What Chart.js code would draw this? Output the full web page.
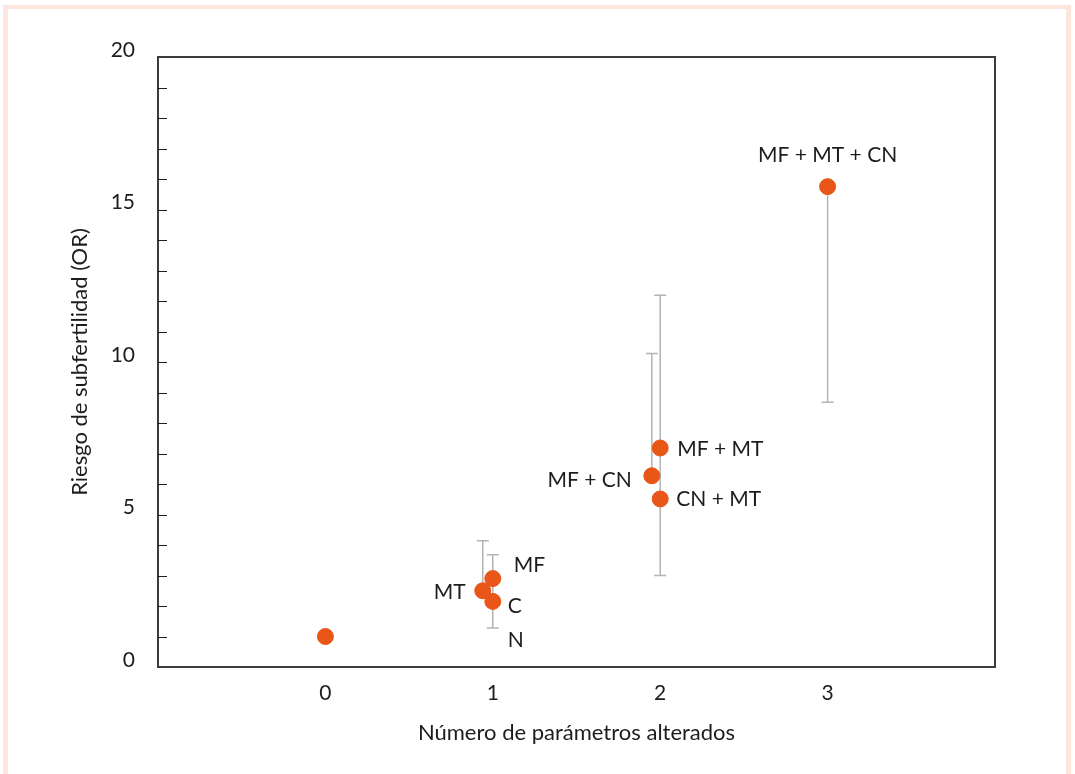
<!DOCTYPE html>
<html>
<head>
<meta charset="utf-8">
<script src="https://cdn.jsdelivr.net/npm/chart.js@4"></script>
<style>
  html, body { margin: 0; padding: 0; background: #fff; }
  #wrap { position: relative; width: 1075px; height: 774px; overflow: hidden; }
  #frame { position: absolute; left: 3px; top: 5px; width: 1058px; height: 790px;
           border-style: solid; border-color: #fde6dd; border-width: 4px 5px 0 5px; }
  canvas { position: absolute; left: 0; top: 0; }
</style>
</head>
<body>
<div id="wrap">
  <div id="frame"></div>
  <canvas id="chart" width="1075" height="774"></canvas>
</div>
<script>
// number of altered parameters (x) and odds ratio of subfertility (y)
var groups = ['Ref', 'MT', 'MF', 'C', 'MF + CN', 'MF + MT', 'CN + MT', 'MF + MT + CN'];
var nParams = [0, 0.94, 1.0, 1.0, 1.95, 2.0, 2.0, 3.0];
var oddsRatio = [1.0, 2.5, 2.9, 2.15, 6.27, 7.18, 5.51, 15.75];
var ciLow = [null, 2.5, 1.28, null, 6.27, 3.0, null, 8.68];
var ciHigh = [null, 4.14, 3.68, null, 10.28, 12.19, null, 15.75];
var xTickLabels = ['0', '1', '2', '3'];
var yTickLabels = [0, 5, 10, 15, 20];

// where each text sits relative to its point (pixels)
var labelPlacement = [
    { i: 1, text: 'MT', dx: -17, dy: 1, align: 'right' },
    { i: 2, text: 'MF', dx: 21, dy: -13, align: 'left' },
    { i: 3, text: 'C', dx: 15, dy: 5, align: 'left' },
    { i: 3, text: 'N', dx: 15, dy: 39, align: 'left' },
    { i: 4, text: 'MF + CN', dx: -20, dy: 4, align: 'right' },
    { i: 5, text: 'MF + MT', dx: 17, dy: 1, align: 'left' },
    { i: 6, text: 'CN + MT', dx: 16, dy: 0, align: 'left' },
    { i: 7, text: 'MF + MT + CN', dx: 0, dy: -31, align: 'center' }
];

var FONT = 'Lato, "Open Sans", sans-serif';
var TEXT = '#1d1d1b';
var ORANGE = '#e85618';

var points = nParams.map(function (x, i) {
    return { x: x, y: oddsRatio[i] };
});

var extrasPlugin = {
    id: 'extras',
    beforeDatasetsDraw: function (chart) {
        var ctx = chart.ctx;
        var xs = chart.scales.x, ys = chart.scales.y;
        ctx.save();
        ctx.strokeStyle = '#b4b4b4';
        ctx.lineWidth = 1.5;
        for (var i = 0; i < nParams.length; i++) {
            if (ciLow[i] === null) continue;
            var px = xs.getPixelForValue(nParams[i]);
            var lo = ys.getPixelForValue(ciLow[i]);
            var hi = ys.getPixelForValue(ciHigh[i]);
            ctx.beginPath();
            ctx.moveTo(px, lo); ctx.lineTo(px, hi);
            if (ciHigh[i] !== oddsRatio[i]) { ctx.moveTo(px - 6, hi); ctx.lineTo(px + 6, hi); }
            if (ciLow[i] !== oddsRatio[i]) { ctx.moveTo(px - 6, lo); ctx.lineTo(px + 6, lo); }
            ctx.stroke();
        }
        ctx.restore();
    },
    afterDatasetsDraw: function (chart) {
        var ctx = chart.ctx;
        var a = chart.chartArea;
        var xs = chart.scales.x, ys = chart.scales.y;
        ctx.save();
        // box round the plot
        ctx.strokeStyle = '#3c3c3c';
        ctx.lineWidth = 2;
        ctx.strokeRect(a.left, a.top, a.right - a.left, a.bottom - a.top);
        // inward minor ticks on y
        ctx.lineWidth = 1;
        ctx.strokeStyle = '#1d1d1b';
        for (var v = 1; v < 20; v++) {
            var py = Math.round(ys.getPixelForValue(v)) + 0.5;
            ctx.beginPath();
            ctx.moveTo(a.left - 1, py); ctx.lineTo(a.left + 9, py);
            ctx.stroke();
        }
        // point labels
        ctx.fillStyle = TEXT;
        ctx.font = '21px ' + FONT;
        ctx.textBaseline = 'middle';
        labelPlacement.forEach(function (l) {
            var px = xs.getPixelForValue(nParams[l.i]);
            var py = ys.getPixelForValue(oddsRatio[l.i]);
            ctx.textAlign = l.align;
            ctx.fillText(l.text, px + l.dx, py + l.dy);
        });
        ctx.restore();
    }
};

var chart = new Chart(document.getElementById('chart'), {
    type: 'scatter',
    data: {
        datasets: [{
            label: 'OR',
            data: points,
            backgroundColor: ORANGE,
            borderColor: ORANGE,
            pointRadius: 8,
            pointHoverRadius: 8
        }]
    },
    options: {
        responsive: false,
        animation: false,
        layout: { padding: { left: 0, top: 57, right: 80, bottom: 0 } },
        plugins: { legend: { display: false }, tooltip: { enabled: false } },
        scales: {
            x: {
                type: 'linear',
                min: -1,
                max: 4,
                afterFit: function (scale) { scale.height = 107; },
                border: { display: false },
                grid: { display: true, drawOnChartArea: false, drawTicks: false },
                ticks: {
                    stepSize: 1,
                    padding: 14,
                    color: TEXT,
                    font: { family: FONT, size: 21 },
                    callback: function (v) {
                        var s = String(v);
                        return xTickLabels.indexOf(s) >= 0 ? s : '';
                    }
                },
                title: {
                    display: true,
                    text: 'Número de parámetros alterados',
                    color: TEXT,
                    font: { family: FONT, size: 22 },
                    padding: { top: 0, bottom: 28 }
                }
            },
            y: {
                min: 0,
                max: 20,
                afterFit: function (scale) { scale.width = 158; },
                border: { display: false },
                grid: { display: true, drawOnChartArea: false, drawTicks: false },
                ticks: {
                    stepSize: 1,
                    padding: 23,
                    labelOffset: -7,
                    color: TEXT,
                    font: { family: FONT, size: 21 },
                    callback: function (v) {
                        return yTickLabels.indexOf(v) >= 0 ? String(v) : '';
                    }
                },
                title: {
                    display: true,
                    text: 'Riesgo de subfertilidad (OR)',
                    color: TEXT,
                    font: { family: FONT, size: 22 },
                    padding: { top: 67, bottom: 0 }
                }
            }
        }
    },
    plugins: [extrasPlugin]
});
</script>
</body>
</html>
